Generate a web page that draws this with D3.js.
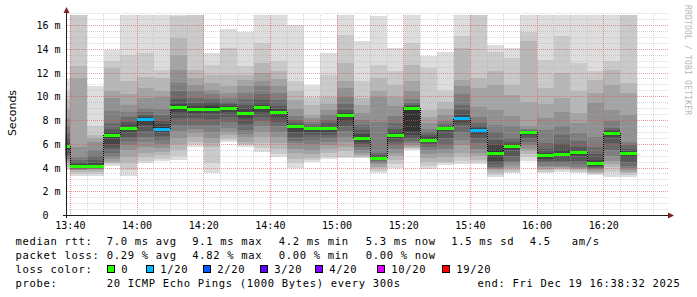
<!DOCTYPE html>
<html><head><meta charset="utf-8">
<script src="https://cdn.jsdelivr.net/npm/d3@7"></script>
<style>
html,body{margin:0;padding:0;background:#fff;}
svg{display:block;}
text{font-family:"DejaVu Sans Mono",monospace;white-space:pre;}
</style></head><body>
<svg id="c" width="697" height="297"></svg>
<script>
// ---------- data ----------
const timeStart = "13:38:32";
const timeEnd = "16:38:32";
const barStarts = ["13:35","13:40","13:45","13:50","13:55","14:00","14:05","14:10","14:15","14:20","14:25",
  "14:30","14:35","14:40","14:45","14:50","14:55","15:00","15:05","15:10","15:15","15:20","15:25",
  "15:30","15:35","15:40","15:45","15:50","15:55","16:00","16:05","16:10","16:15","16:20","16:25"];
const medians = [5.85,4.2,4.2,6.77,7.4,8.15,7.3,9.13,8.93,8.99,9.05,8.62,9.13,8.73,7.55,7.36,7.38,8.5,6.54,
  4.85,6.82,9.05,6.37,7.41,8.25,7.24,5.27,5.89,7.05,5.13,5.22,5.33,4.4,6.96,5.27];
const lossCounts = [0,0,0,0,0,1,1,0,0,0,0,0,0,0,0,0,0,0,0,0,0,0,0,0,1,1,0,0,0,0,0,0,0,0,0];
// 20 sorted ping rtts (ms) per 5-minute step, as read from the smoke
const pings = [
  [3.8,4.0,4.2,4.4,4.6,4.8,5.0,5.2,5.5,5.8,5.9,6.1,6.5,7.0,7.5,8.2,9.0,9.8,10.5,11.5],
  [3.3,3.5,3.7,3.8,3.85,3.9,3.95,4.0,4.1,4.18,4.22,4.35,4.5,4.7,4.96,5.8,11.58,12.56,16.9,16.9],
  [3.3,3.5,3.7,3.8,3.9,3.95,4.0,4.05,4.1,4.15,4.25,4.4,4.7,5.0,5.5,6.2,6.5,6.8,7.5,10.87],
  [4.2,4.3,4.4,4.54,4.8,4.96,5.3,5.67,6.0,6.7,6.85,7.0,7.3,7.78,8.8,9.89,10.45,12.42,12.98,13.95],
  [3.3,3.84,4.4,4.96,5.5,5.9,6.3,6.6,7.0,7.3,7.45,7.6,7.9,8.3,8.7,9.3,10.2,11.3,13.54,16.9],
  [4.4,4.55,4.9,5.3,5.8,6.2,6.65,7.1,7.6,8.1,8.2,8.3,8.45,8.7,9.05,9.9,10.7,11.7,13.69,16.9],
  [4.55,4.8,5.1,5.38,5.7,6.0,6.37,6.7,7.0,7.25,7.45,7.7,8.0,8.5,9.0,10.0,10.5,11.58,12.28,16.9],
  [4.7,5.0,5.5,6.0,6.55,7.1,7.64,8.2,8.7,9.07,9.2,9.4,9.8,10.45,11.16,12.28,13.54,14.95,16.8,16.9],
  [5.8,6.0,6.23,6.6,6.96,7.3,7.64,8.2,8.6,8.88,9.0,9.2,9.5,9.9,10.45,11.0,11.6,12.28,16.9,16.9],
  [3.56,4.4,5.8,6.1,6.5,7.0,7.64,8.1,8.6,8.95,9.1,9.3,9.6,9.8,10.2,10.6,11.2,11.86,12.7,13.69],
  [6.2,6.35,6.51,6.8,7.0,7.36,7.9,8.3,8.7,9.0,9.1,9.2,9.4,9.6,9.9,10.3,10.87,11.86,14.1,15.75],
  [5.8,5.9,6.0,6.23,6.6,6.9,7.2,7.7,8.2,8.5,8.75,9.0,9.3,9.8,10.3,10.87,11.4,11.8,12.56,15.5],
  [5.38,5.7,6.09,6.6,7.07,7.5,8.0,8.3,8.7,9.1,9.2,9.35,9.7,10.2,10.87,11.3,12.0,12.84,14.53,16.9],
  [4.96,5.2,5.6,6.09,6.6,7.07,7.5,7.9,8.3,8.7,8.8,8.95,9.2,9.7,10.3,10.9,11.5,12.14,12.98,16.9],
  [3.98,4.4,4.8,5.25,5.6,6.09,6.3,6.65,7.0,7.5,7.6,7.65,7.8,8.06,8.4,9.0,9.75,10.45,11.3,16.08],
  [4.54,4.65,4.83,5.2,5.53,6.0,6.4,6.79,7.0,7.33,7.4,7.45,7.55,7.7,7.9,8.2,8.48,9.3,10.0,11.0],
  [4.8,4.9,5.25,5.6,5.95,6.2,6.51,6.8,7.0,7.37,7.45,7.55,7.8,8.06,8.5,8.9,9.4,10.0,11.86,13.69],
  [4.83,4.96,5.4,5.8,6.2,6.65,7.1,7.5,8.0,8.42,8.55,8.65,8.9,9.4,10.0,10.7,11.3,12.84,15.2,16.9],
  [4.83,4.9,4.96,5.1,5.3,5.53,5.8,6.0,6.2,6.5,6.65,6.85,7.2,7.6,8.06,8.6,9.3,9.89,11.3,14.67],
  [3.56,3.75,3.98,4.1,4.3,4.45,4.55,4.65,4.75,4.85,4.92,5.0,5.1,5.3,7.9,10.0,10.5,11.58,12.7,16.78],
  [3.98,4.3,4.7,5.0,5.3,5.6,5.9,6.2,6.5,6.76,6.88,7.0,7.3,7.8,8.4,9.2,10.0,11.0,12.2,14.15],
  [5.53,5.6,5.7,5.8,5.95,6.1,6.3,6.5,6.8,7.1,9.1,9.2,9.3,9.45,9.8,10.45,11.3,12.7,14.5,16.9],
  [3.9,4.2,4.5,4.83,5.2,5.53,5.8,6.0,6.15,6.3,6.45,6.6,6.8,7.0,7.3,7.78,8.3,8.9,12.42,13.4],
  [4.26,4.4,4.54,4.9,5.25,5.6,5.95,6.5,7.1,7.38,7.43,7.48,7.55,7.7,8.0,8.48,9.0,9.6,10.45,13.8],
  [4.3,4.6,4.9,5.25,5.9,6.37,7.0,7.6,7.9,8.2,8.3,8.5,8.9,9.32,10.2,10.9,11.43,14.1,15.1,16.9],
  [4.3,4.5,4.7,5.0,5.3,5.6,6.1,6.5,6.9,7.2,7.28,7.35,7.5,7.8,8.3,9.18,10.7,11.58,16.9,16.9],
  [3.27,3.45,3.6,3.8,3.9,4.0,4.12,4.3,4.6,5.1,5.5,5.9,6.4,7.0,7.64,8.9,11.0,12.14,13.8,14.4],
  [3.56,3.65,3.8,4.0,4.2,4.4,4.6,5.0,5.5,5.85,5.92,6.0,6.2,6.51,7.5,8.34,10.17,11.0,13.26,14.1],
  [4.6,4.96,5.2,5.4,5.6,5.9,6.2,6.5,6.8,7.0,7.07,7.1,7.15,7.2,7.3,7.5,9.6,14.67,15.5,16.9],
  [3.56,3.7,3.8,3.9,4.05,4.2,4.4,4.6,4.8,5.1,5.18,5.3,5.6,6.1,7.2,8.2,9.4,10.7,13.1,16.9],
  [3.7,3.8,3.9,4.0,4.1,4.2,4.4,4.6,4.9,5.15,5.28,5.5,6.0,6.8,7.5,8.7,9.9,12.0,15.1,16.9],
  [3.56,3.7,3.8,3.9,4.0,4.1,4.3,4.6,5.0,5.28,5.38,5.5,5.8,6.3,6.94,7.78,8.62,10.5,12.84,16.9],
  [3.4,3.5,3.6,3.7,3.8,3.9,4.0,4.1,4.2,4.35,4.5,4.7,5.2,5.8,6.65,9.47,10.3,11.43,12.14,16.9],
  [3.27,3.7,4.12,4.3,4.6,5.0,5.5,6.09,6.6,6.95,7.0,7.1,7.2,7.36,8.0,8.9,11.0,12.28,13.0,16.9],
  [3.27,3.4,3.55,3.7,3.85,4.0,4.2,4.5,4.9,5.25,5.3,5.4,5.6,5.9,6.23,8.48,10.3,11.16,16.9,16.9]
];
const yTickValues = [0,2,4,6,8,10,12,14,16];
const yUnit = "m";
const xTickLabels = ["13:40","14:00","14:20","14:40","15:00","15:20","15:40","16:00","16:20"];
const yTitle = "Seconds";
const watermark = "RRDTOOL / TOBI OETIKER";
const rowLabels = ["median rtt:","packet loss:","loss color:","probe:"];
const rttStats = ["7.0 ms avg","9.1 ms max","4.2 ms min","5.3 ms now","1.5 ms sd","4.5","am/s"];
const lossStats = ["0.29 % avg","4.82 % max","0.00 % min","0.00 % now"];
const lossThresholds = [0,1,2,3,4,10,19];
const lossLabels = ["0","1/20","2/20","3/20","4/20","10/20","19/20"];
const lossColors = ["#26ff00","#00b8ff","#0059ff","#5e00ff","#7e00ff","#dd00ff","#ff0000"];
const probeText = "20 ICMP Echo Pings (1000 Bytes) every 300s";
const endText = "end: Fri Dec 19 16:38:32 2025";

// ---------- layout ----------
const svg = d3.select("#c");
const parse = d3.timeParse("%Y-%m-%d %H:%M:%S");
const T = s => parse("2025-12-19 " + (s.length === 5 ? s + ":00" : s));
const X0 = 65.5, X1 = 665.5, GRIDR = 668, Y0 = 215.5, YT = 13.7;
const x = d3.scaleTime().domain([T(timeStart), T(timeEnd)]).range([X0, X1]);
const y = d3.scaleLinear().domain([0, 17]).range([Y0, YT]);
const step = 5 * 60 * 1000;

svg.append("rect").attr("width",697).attr("height",297).attr("fill","#fff");
svg.append("clipPath").attr("id","pc").append("rect")
  .attr("x",X0).attr("y",YT).attr("width",GRIDR-X0).attr("height",Y0-YT);

const plot = svg.append("g").attr("clip-path","url(#pc)");

// smoke layers
const bars = barStarts.map((s,i)=>({t0:T(s), t1:new Date(+T(s)+step), p:pings[i], m:medians[i], loss:lossCounts[i]}));
for (let k = 0; k < 10; k++) {
  const g = Math.floor(190/10*(10-(k+1))) + 50;
  const col = d3.rgb(g,g,g).formatHex();
  plot.append("g").attr("shape-rendering","crispEdges").selectAll("rect").data(bars).join("rect")
    .attr("x", d=>x(d.t0)).attr("width", d=>x(d.t1)-x(d.t0))
    .attr("y", d=>y(d.p[19-k])).attr("height", d=>y(d.p[k])-y(d.p[19-k]))
    .attr("fill", col);
}

// grid (drawn on top as in rrdtool)
const grid = svg.append("g").attr("shape-rendering","crispEdges");
const minorCol = "rgba(170,170,170,0.45)", majorCol = "rgba(225,80,80,0.58)";
for (let v = 0.5; v <= 17.001; v += 0.5) {
  const major = Math.abs(v/2 - Math.round(v/2)) < 1e-6;
  const gy = Math.floor(y(v)) + 0.5;
  grid.append("line").attr("x1",X0+1).attr("x2",GRIDR).attr("y1",gy).attr("y2",gy)
    .attr("stroke", major ? majorCol : minorCol).attr("stroke-dasharray","1,1");
}
d3.timeMinute.every(5).range(x.domain()[0], new Date(+x.domain()[1]+3*60000)).forEach(t=>{
  const gx = Math.floor(x(t)) + 0.5;
  if (gx > GRIDR) return;
  const major = t.getMinutes() % 20 === 0;
  grid.append("line").attr("x1",gx).attr("x2",gx).attr("y1",Y0).attr("y2",YT)
    .attr("stroke", major ? majorCol : minorCol).attr("stroke-dasharray","1,1");
});

// median
const lossColor = n => { let c = lossColors[0]; lossThresholds.forEach((th,i)=>{ if (n >= th) c = lossColors[i]; }); return c; };
const med = svg.append("g").attr("clip-path","url(#pc)");
bars.forEach((d,i)=>{
  if (i > 0 && Math.abs(bars[i-1].m - d.m) > 0.01) {
    const vx = Math.floor(x(d.t0)) + 0.5;
    med.append("line").attr("x1",vx).attr("x2",vx).attr("y1",y(bars[i-1].m)).attr("y2",y(d.m))
      .attr("stroke","#000").attr("stroke-dasharray","1,1").attr("shape-rendering","crispEdges");
  }
});
med.append("g").attr("shape-rendering","crispEdges").selectAll("rect").data(bars).join("rect")
  .attr("x", d=>x(d.t0)).attr("width", d=>x(d.t1)-x(d.t0))
  .attr("y", d=>Math.round(y(d.m))-1.5).attr("height",3)
  .attr("fill", d=>lossColor(d.loss));

// axes
const axisCol = "#1f1f1f", arrowCol = "#801f1f";
svg.append("line").attr("x1",63).attr("x2",669).attr("y1",Y0).attr("y2",Y0).attr("stroke",axisCol);
svg.append("line").attr("x1",66.5).attr("x2",66.5).attr("y1",218).attr("y2",10).attr("stroke",axisCol);
svg.append("path").attr("d","M66.5,7 L63.5,13 L69.5,13 Z").attr("fill",arrowCol);
svg.append("path").attr("d","M674,215.5 L668,212.5 L668,218.5 Z").attr("fill",arrowCol);

// y labels
svg.append("g").selectAll("text").data(yTickValues).join("text")
  .attr("x",60.5).attr("y",v=>y(v)+3.6).attr("text-anchor","end")
  .attr("font-size","10px").attr("fill","#000")
  .text(v=> v === 0 ? "0  " : v + " " + yUnit);
// x labels
svg.append("g").selectAll("text").data(xTickLabels).join("text")
  .attr("x",s=>x(T(s))).attr("y",228.5).attr("text-anchor","middle")
  .attr("font-size","10px").attr("fill","#000").text(s=>s);

// titles
svg.append("text").attr("transform","translate(15.5,113) rotate(-90)").attr("text-anchor","middle")
  .style("font-family","'DejaVu Sans',sans-serif").attr("font-size","11px").attr("fill","#000").text(yTitle);
svg.append("text").attr("transform","translate(685,5) rotate(90)")
  .attr("font-size","8px").attr("fill","#b8b8b8").attr("textLength",110).attr("lengthAdjust","spacing").text(watermark);

// legend
const leg = svg.append("g").attr("font-size","10.5px").attr("letter-spacing","0.68px").attr("fill","#000");
const rowY = [244.8, 258.7, 272.6, 286.5];
rowLabels.forEach((s,i)=> leg.append("text").attr("x",15.5).attr("y",rowY[i]).text(s));
const rttX = [106.8,192.3,278.8,365.8,451.3,529.8,571.8];
rttStats.forEach((s,i)=> leg.append("text").attr("x",rttX[i]).attr("y",rowY[0]).text(s));
lossStats.forEach((s,i)=> leg.append("text").attr("x",rttX[i]).attr("y",rowY[1]).text(s));
const boxX = [107.5,146.5,203.5,260.5,315.5,377.5,442.5];
lossLabels.forEach((s,i)=>{
  leg.append("rect").attr("x",boxX[i]).attr("y",265.5).attr("width",7).attr("height",7)
    .attr("fill",lossColors[i]).attr("stroke","#000").attr("stroke-width",1);
  leg.append("text").attr("x",boxX[i]+13.7).attr("y",rowY[2]).text(s);
});
leg.append("text").attr("x",106.8).attr("y",rowY[3]).text(probeText);
leg.append("text").attr("x",477.5).attr("y",rowY[3]).text(endText);
</script>
</body></html>
